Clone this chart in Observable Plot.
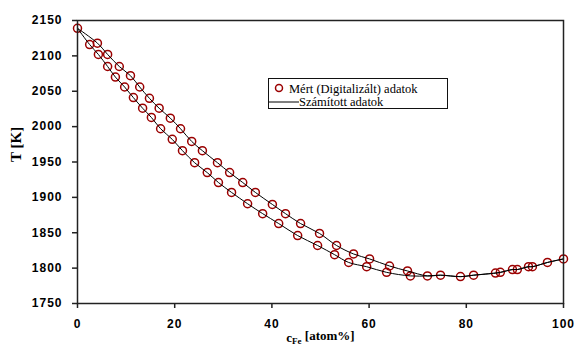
<!DOCTYPE html>
<html>
<head>
<meta charset="utf-8">
<script src="https://cdn.jsdelivr.net/npm/d3@7"></script>
<script src="https://cdn.jsdelivr.net/npm/@observablehq/plot@0.6"></script>
<style>
  html, body { margin: 0; padding: 0; background: #fff; }
  #wrap { position: relative; width: 574px; height: 351px; }
  #legend {
    position: absolute; left: 268px; top: 78px; width: 180px; height: 31px;
    border: 1px solid #111; background: #fff; box-sizing: border-box;
    color: #000; overflow: hidden;
  }
  #legend .row { position: absolute; left: 0; white-space: nowrap; line-height: 12px; height: 12px; }
  #legend span { font-family: "Liberation Serif", "Times New Roman", "DejaVu Serif", serif; font-size: 12.5px; }
</style>
</head>
<body>
<div id="wrap">
  <div id="chart"></div>
  <div id="legend">
    <div class="row" style="top:3px;">
      <svg width="20" height="12" style="vertical-align:top"><circle cx="10" cy="6" r="3.5" fill="none" stroke="#9b0000" stroke-width="1.5"/></svg><span id="lg1"></span>
    </div>
    <div class="row" style="top:16px;">
      <svg width="30" height="12" style="vertical-align:top"><line x1="0" y1="7" x2="30" y2="7" stroke="#000" stroke-width="1"/></svg><span id="lg2"></span>
    </div>
  </div>
</div>
<script>
// ---- data ----
const startX = 0, startT = 2139;

// upper branch (right-hand curve at high T)
const upperX = [4.1, 6.2, 8.6, 10.9, 12.8, 14.8, 16.8, 19.1, 21.2, 23.5, 25.7, 28.8, 31.3, 34.0, 36.6, 40.1, 42.8, 45.9, 49.8, 53.3, 56.8, 60.1, 64.2, 67.9];
const upperT = [2118, 2102, 2085, 2072, 2056, 2040, 2026, 2012, 1997, 1979, 1966, 1949, 1935, 1921, 1907, 1890, 1877, 1863, 1849, 1832, 1820, 1813, 1803, 1796];

// lower branch
const lowerX = [2.5, 4.3, 6.2, 7.8, 9.7, 11.5, 13.4, 15.2, 17.1, 19.5, 21.6, 24.1, 26.7, 29.0, 31.7, 35.0, 38.1, 41.4, 45.3, 49.4, 52.9, 55.8, 59.5, 63.6, 68.5];
const lowerT = [2116, 2102, 2085, 2070, 2056, 2041, 2026, 2013, 1997, 1982, 1966, 1949, 1935, 1921, 1907, 1891, 1877, 1863, 1846, 1832, 1819, 1808, 1802, 1794, 1789];

// common tail (branches merged)
const tailX = [72.0, 74.7, 78.8, 81.5, 86.0, 87.0, 89.5, 90.5, 92.8, 93.6, 96.7, 100];
const tailT = [1789, 1790, 1788, 1790, 1793, 1794, 1798, 1798, 1802, 1802, 1808, 1813];

const xTicks = [0, 20, 40, 60, 80, 100];
const yTicks = [1750, 1800, 1850, 1900, 1950, 2000, 2050, 2100, 2150];

const xLabel = "cFe [atom%]";
const yLabel = "T [K]";
const legendMeasured = "Mért (Digitalizált) adatok";
const legendComputed = "Számított adatok";

// ---- build tables ----
const measured = [{x: startX, T: startT}]
  .concat(upperX.map((x, i) => ({x, T: upperT[i]})))
  .concat(lowerX.map((x, i) => ({x, T: lowerT[i]})))
  .concat(tailX.map((x, i) => ({x, T: tailT[i]})));

const tail = tailX.map((x, i) => ({x, T: tailT[i]}));
const computed = []
  .concat([{x: startX, T: startT, b: "u"}], upperX.map((x, i) => ({x, T: upperT[i], b: "u"})), tail.map(d => ({...d, b: "u"})))
  .concat([{x: startX, T: startT, b: "l"}], lowerX.map((x, i) => ({x, T: lowerT[i], b: "l"})), tail.map(d => ({...d, b: "l"})));

const chart = Plot.plot({
  width: 574,
  height: 351,
  marginLeft: 77,
  marginRight: 11,
  marginTop: 20,
  marginBottom: 48,
  style: {fontFamily: "'Liberation Sans', 'DejaVu Sans', sans-serif", fontSize: "12px", background: "#fff", color: "#000"},
  x: {domain: [0, 100]},
  y: {domain: [1750, 2150]},
  marks: [
    Plot.axisX({ticks: xTicks, tickSize: 5, tickPadding: 11, label: null, fontWeight: "bold", fontSize: 12, stroke: "#222", strokeWidth: 1.5, className: "tk"}),
    Plot.axisY({ticks: yTicks, tickSize: 5, tickPadding: 10, label: null, tickFormat: d => String(d), fontWeight: "bold", fontSize: 12, stroke: "#222", strokeWidth: 1.5, className: "tk"}),
    Plot.dot(measured, {x: "x", y: "T", r: 4, stroke: "#9b0000", strokeWidth: 1.5, fill: "none"}),
    Plot.line(computed, {x: "x", y: "T", z: "b", stroke: "#000", strokeWidth: 1, curve: "catmull-rom"}),
    Plot.frame({stroke: "#222", strokeWidth: 1.5}),
    Plot.text([yLabel], {frameAnchor: "left", dx: -61, rotate: -90, fontSize: 15, fontWeight: "bold", fontFamily: "'Liberation Serif', serif", text: d => d}),
    Plot.text([xLabel], {frameAnchor: "bottom", dy: 38, fontSize: 13, fontWeight: "bold", fontFamily: "'Liberation Serif', serif", text: d => d, className: "xlab"})
  ]
});

document.getElementById("chart").appendChild(chart);
document.getElementById("lg1").textContent = legendMeasured;
document.getElementById("lg2").textContent = legendComputed;

// wider spacing of the tick digits, as in the reference
d3.select(chart).selectAll("g.tk text").attr("letter-spacing", "1px");

// subscript for the x-axis label
d3.select(chart).selectAll("g.xlab text").each(function() {
  const t = d3.select(this);
  const s = t.text();
  const m = s.match(/^c(Fe)(.*)$/);
  if (m) {
    t.text(null);
    t.append("tspan").text("c");
    t.append("tspan").attr("font-size", 9).attr("dy", "0.3em").text(m[1]);
    t.append("tspan").attr("dy", "-0.3em").text(m[2]);
  }
});
</script>
</body>
</html>
